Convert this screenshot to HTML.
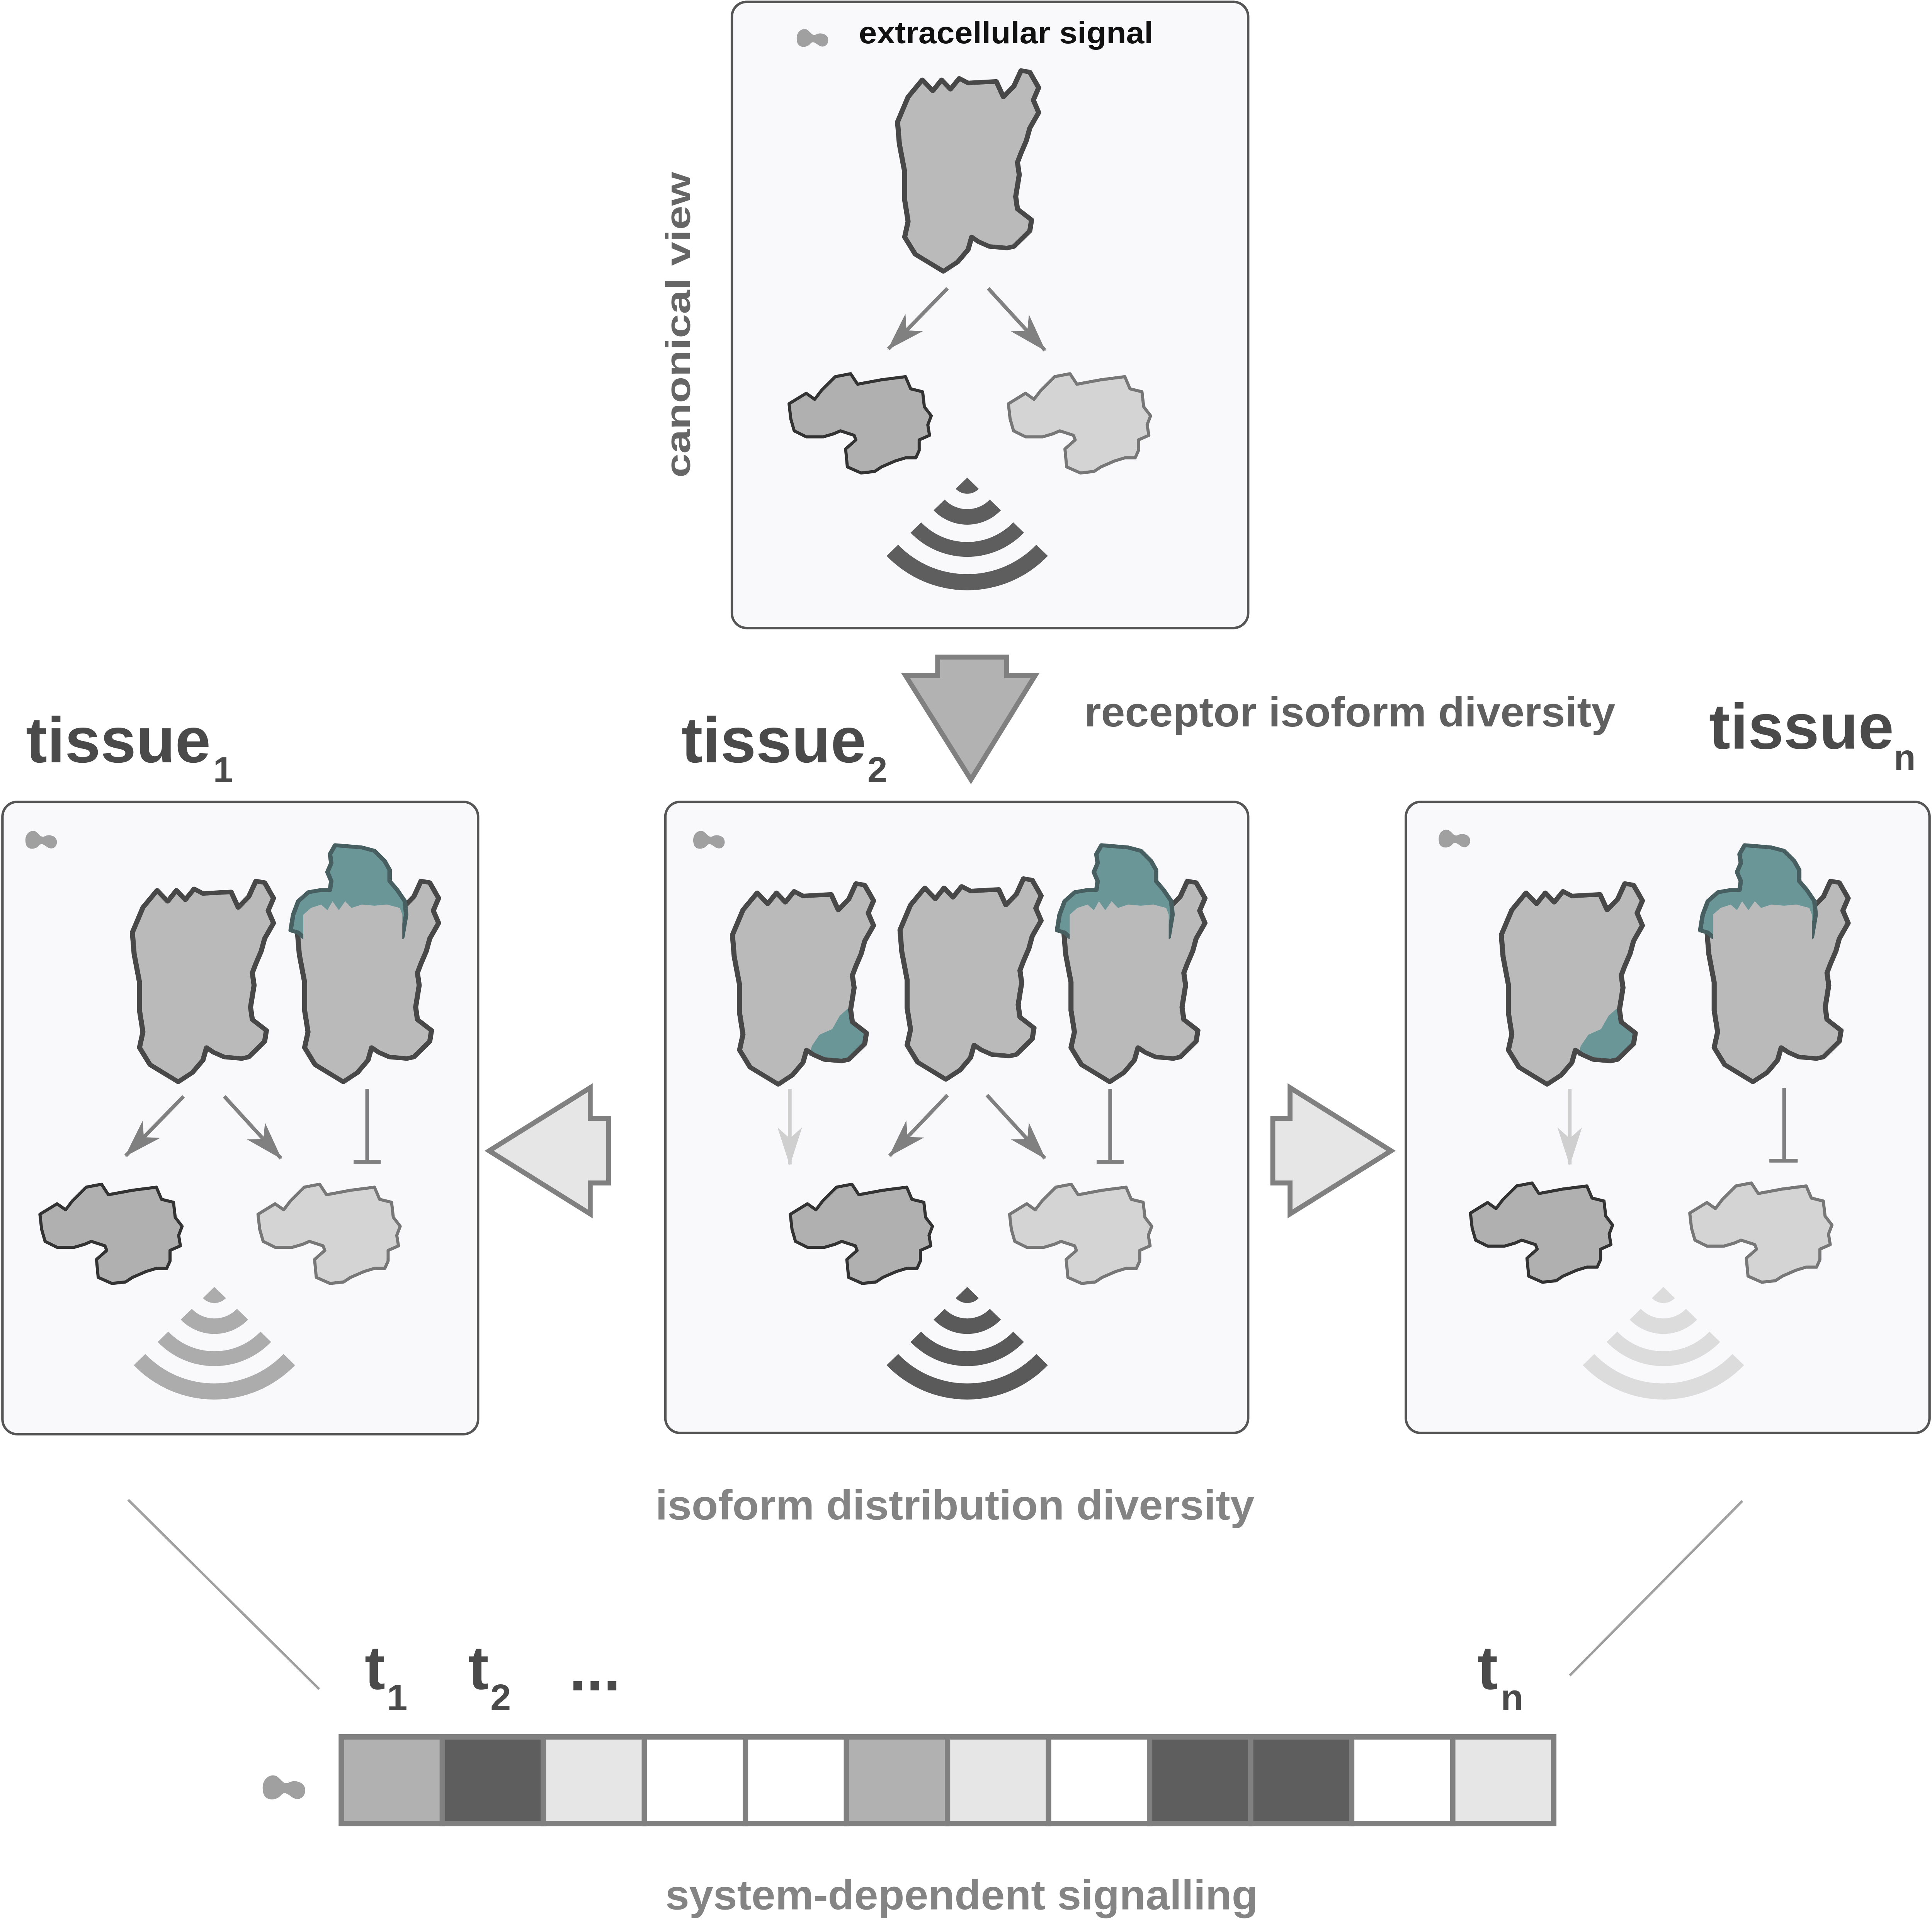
<!DOCTYPE html>
<html><head><meta charset="utf-8"><style>
html,body{margin:0;padding:0;background:#fff;overflow:hidden;width:100vw;height:100vh;}
svg{display:block;position:absolute;left:0;top:0;width:100vw;height:100vh;}
text{font-family:"Liberation Sans",Arial,sans-serif;font-weight:bold;}
</style></head><body>
<svg viewBox="0 0 1568 1561.3" preserveAspectRatio="none" xmlns="http://www.w3.org/2000/svg">
<defs>
<path id="rec" d="M9.7,23.6 L20.9,8.3 L29.2,18.1 L36.1,8.3 L43.1,16.7 L50,7 L57,11.1 L79.2,9.7 L84.8,23.6 L93.1,13.9 L98.7,0 L105.6,1.4 L112.6,15.3 L108.4,26.4 L112.6,37.5 L105.6,51.4 L102.9,62.6 L98.7,73.7 L95.9,82 L97.3,93.1 L94.5,112.6 L95.9,123.7 L107,133.4 L105.6,143.2 L93.1,157.1 L87.6,158.5 L73.7,157.1 L65.3,152.9 L59.8,148.7 L57,159.9 L48.7,171 L37.5,179.3 L15.3,164 L7,148.7 L9.7,134.8 L7,115.4 L7,90.4 L2.8,65.3 L1.4,45.9 Z"/>
<path id="eff" d="M1.4,24.3 L15.3,15.8 L22.2,20.7 L27.8,13.4 L38.9,2.4 L51.4,0 L57,8.5 L76.5,4.9 L95.9,2.4 L100.1,12.2 L109.8,14.6 L111.2,26.7 L116.8,34 L114,41.3 L115.4,49.8 L107,53.5 L107,62 L104.3,68 L95.9,68 L87.6,70.5 L76.5,75.3 L70.9,79 L59.8,80.2 L48.7,75.3 L47.3,60.8 L55.6,53.5 L54.2,49.8 L43.1,46.2 L37.5,48.6 L29.2,51 L15.3,51 L5.6,46.2 L2.8,36.5 Z"/>
<path id="sig" d="M2,14 C0,6 6,2 10,4 C13,6 14,9 17,8 C20,6 26,7 27,11 C28,16 24,19 20,17 C17,15 15,13 13,15 C10,19 3,19 2,14 Z" fill="#a0a0a0"/>
<g id="wifi">
<path d="M0,0 L-9.35,9.04 A13,13 0 0 0 9.35,9.04 Z"/>
<path d="M-27.32,26.41 A38,38 0 0 0 27.32,26.41 L18.33,17.72 A25.5,25.5 0 0 1 -18.33,17.72 Z"/>
<path d="M-46.02,44.48 A64,64 0 0 0 46.02,44.48 L37.39,36.14 A52,52 0 0 1 -37.39,36.14 Z"/>
<path d="M-65.43,63.25 A91,91 0 0 0 65.43,63.25 L56.08,54.21 A78,78 0 0 1 -56.08,54.21 Z"/>
</g>
<g id="tealTop">
<path d="M-4,44 L-2,30 L2,18 L10,10 L20,8 L27,8 L28,0 L25,-8 L28,-16 L27,-24 L31,-32 L52,-30 L62,-27 L70,-18 L74,-10 L74,0 L80,8 L86,18 L87,30 L84,50 L6,50 L2,46 Z" fill="#6a9698" stroke="#485f61" stroke-width="3.5" stroke-linejoin="round"/>
<path d="M6,52 L6,30 L12,24 L20,21 L25,26 L29,18 L34,26 L39,18 L44,24 L52,21 L62,22 L72,21 L82,24 L84,30 L84,52 Z" fill="#bababa"/>
</g>
<path id="tealBot" d="M62,154 L64,145 L70,135 L80,130 L86,118 L92,112 L96,113 L96,124 L107,133.4 L105.6,143.2 L93.1,157.1 L87.6,158.5 L73.7,157.1 L65.3,152.9 Z" fill="#6a9698"/>
<marker id="ah" viewBox="-32 -12 34 24" markerWidth="34" markerHeight="24" refX="0" refY="0" orient="auto" markerUnits="userSpaceOnUse"><path d="M1,0 L-30,-10 L-21,0 L-30,10 Z" fill="#808080"/></marker>
<marker id="ahl" viewBox="-32 -12 34 24" markerWidth="34" markerHeight="24" refX="0" refY="0" orient="auto" markerUnits="userSpaceOnUse"><path d="M1,0 L-30,-10 L-21,0 L-30,10 Z" fill="#cfcfcf"/></marker>
</defs>

<rect x="594" y="1.5" width="419" height="506" rx="12" fill="#f9f9fb" stroke="#555" stroke-width="2"/>
<use href="#sig" x="645" y="20"/>
<text x="697" y="35" font-size="25" fill="#111" textLength="239" lengthAdjust="spacingAndGlyphs">extracellular signal</text>
<text transform="translate(560,386) rotate(-90)" font-size="28" fill="#666" textLength="247" lengthAdjust="spacingAndGlyphs">canonical view</text>
<g transform="translate(727,57) scale(1.03,0.905)"><use href="#rec" fill="#bababa" stroke="#484848" stroke-width="4" stroke-linejoin="round"/></g>
<line x1="769" y1="233" x2="721" y2="282" stroke="#808080" stroke-width="3" marker-end="url(#ah)"/>
<line x1="802" y1="233" x2="848" y2="283" stroke="#808080" stroke-width="3" marker-end="url(#ah)"/>
<use href="#eff" x="639" y="302" fill="#b0b0b0" stroke="#333" stroke-width="2.5" stroke-linejoin="round"/>
<use href="#eff" x="817" y="302" fill="#d4d4d4" stroke="#777" stroke-width="2.5" stroke-linejoin="round"/>
<use href="#wifi" x="785" y="386" fill="#5e5e5e"/>

<polygon points="761,531 817,531 817,546 840,546 788,630 735,546 761,546" fill="#b2b2b2" stroke="#808080" stroke-width="4"/>
<text x="880" y="587" font-size="34" fill="#606060" textLength="431" lengthAdjust="spacingAndGlyphs">receptor isoform diversity</text>

<text x="21" y="616" font-size="52" fill="#4a4a4a" textLength="150" lengthAdjust="spacingAndGlyphs">tissue</text>
<text x="173" y="632" font-size="29" fill="#4a4a4a">1</text>
<text x="553" y="616" font-size="52" fill="#4a4a4a" textLength="150" lengthAdjust="spacingAndGlyphs">tissue</text>
<text x="704" y="632" font-size="29" fill="#4a4a4a">2</text>
<text x="1387" y="605" font-size="52" fill="#4a4a4a" textLength="150" lengthAdjust="spacingAndGlyphs">tissue</text>
<text x="1537" y="622" font-size="29" fill="#4a4a4a">n</text>

<rect x="2" y="648" width="386" height="511" rx="12" fill="#f9f9fb" stroke="#555" stroke-width="2"/>
<use href="#sig" x="19" y="668"/>
<g transform="translate(106,712) scale(1.03,0.905)"><use href="#rec" fill="#bababa" stroke="#484848" stroke-width="4" stroke-linejoin="round"/></g>
<g transform="translate(240,712) scale(1.03,0.905)"><use href="#rec" fill="#bababa" stroke="#484848" stroke-width="4" stroke-linejoin="round"/><use href="#tealTop"/></g>
<line x1="149" y1="886" x2="102" y2="934" stroke="#808080" stroke-width="3" marker-end="url(#ah)"/>
<line x1="182" y1="886" x2="228" y2="936" stroke="#808080" stroke-width="3" marker-end="url(#ah)"/>
<line x1="298" y1="880" x2="298" y2="939" stroke="#808080" stroke-width="3"/>
<line x1="287" y1="939" x2="309" y2="939" stroke="#808080" stroke-width="3"/>
<use href="#eff" x="31" y="957" fill="#b0b0b0" stroke="#333" stroke-width="2.5" stroke-linejoin="round"/>
<use href="#eff" x="208" y="957" fill="#d4d4d4" stroke="#777" stroke-width="2.5" stroke-linejoin="round"/>
<use href="#wifi" x="174" y="1040" fill="#acacac"/>

<rect x="540" y="648" width="473" height="510" rx="12" fill="#f9f9fb" stroke="#555" stroke-width="2"/>
<use href="#sig" x="561" y="668"/>
<g transform="translate(593,714) scale(1.03,0.905)"><use href="#rec" fill="#bababa"/><use href="#tealBot"/><use href="#rec" fill="none" stroke="#484848" stroke-width="4" stroke-linejoin="round"/></g>
<g transform="translate(729,710) scale(1.03,0.905)"><use href="#rec" fill="#bababa" stroke="#484848" stroke-width="4" stroke-linejoin="round"/></g>
<g transform="translate(862,712) scale(1.03,0.905)"><use href="#rec" fill="#bababa" stroke="#484848" stroke-width="4" stroke-linejoin="round"/><use href="#tealTop"/></g>
<line x1="641" y1="880" x2="641" y2="941" stroke="#cfcfcf" stroke-width="3" marker-end="url(#ahl)"/>
<line x1="769" y1="885" x2="722" y2="934" stroke="#808080" stroke-width="3" marker-end="url(#ah)"/>
<line x1="801" y1="885" x2="848" y2="936" stroke="#808080" stroke-width="3" marker-end="url(#ah)"/>
<line x1="901" y1="880" x2="901" y2="939" stroke="#808080" stroke-width="3"/>
<line x1="890" y1="939" x2="912" y2="939" stroke="#808080" stroke-width="3"/>
<use href="#eff" x="640" y="957" fill="#b0b0b0" stroke="#333" stroke-width="2.5" stroke-linejoin="round"/>
<use href="#eff" x="818" y="957" fill="#d4d4d4" stroke="#777" stroke-width="2.5" stroke-linejoin="round"/>
<use href="#wifi" x="785" y="1040" fill="#5a5a5a"/>

<rect x="1141" y="648" width="425" height="510" rx="12" fill="#f9f9fb" stroke="#555" stroke-width="2"/>
<use href="#sig" x="1166" y="667"/>
<g transform="translate(1217,714) scale(1.03,0.905)"><use href="#rec" fill="#bababa"/><use href="#tealBot"/><use href="#rec" fill="none" stroke="#484848" stroke-width="4" stroke-linejoin="round"/></g>
<g transform="translate(1384,712) scale(1.03,0.905)"><use href="#rec" fill="#bababa" stroke="#484848" stroke-width="4" stroke-linejoin="round"/><use href="#tealTop"/></g>
<line x1="1274" y1="880" x2="1274" y2="941" stroke="#cfcfcf" stroke-width="3" marker-end="url(#ahl)"/>
<line x1="1448" y1="879" x2="1448" y2="938" stroke="#808080" stroke-width="3"/>
<line x1="1436" y1="938" x2="1459" y2="938" stroke="#808080" stroke-width="3"/>
<use href="#eff" x="1192" y="956" fill="#b0b0b0" stroke="#333" stroke-width="2.5" stroke-linejoin="round"/>
<use href="#eff" x="1370" y="956" fill="#d4d4d4" stroke="#777" stroke-width="2.5" stroke-linejoin="round"/>
<use href="#wifi" x="1350" y="1040" fill="#dcdcdc"/>

<polygon points="397,930 479,879 479,904 494,904 494,956 479,956 479,981" fill="#e6e6e6" stroke="#808080" stroke-width="4"/>
<polygon points="1129,930 1047,879 1047,904 1033,904 1033,956 1047,956 1047,981" fill="#e6e6e6" stroke="#808080" stroke-width="4"/>

<text x="532" y="1228" font-size="34" fill="#848484" textLength="486" lengthAdjust="spacingAndGlyphs">isoform distribution diversity</text>

<line x1="104" y1="1212" x2="259" y2="1365" stroke="#a0a0a0" stroke-width="2"/>
<line x1="1414" y1="1213" x2="1274" y2="1354" stroke="#a0a0a0" stroke-width="2"/>

<text x="296" y="1365" font-size="50" fill="#4a4a4a">t</text>
<text x="314" y="1382" font-size="30" fill="#4a4a4a">1</text>
<text x="380" y="1365" font-size="50" fill="#4a4a4a">t</text>
<text x="398" y="1382" font-size="30" fill="#4a4a4a">2</text>
<text x="462" y="1366" font-size="50" fill="#4a4a4a">...</text>
<text x="1199" y="1365" font-size="50" fill="#4a4a4a">t</text>
<text x="1218" y="1382" font-size="30" fill="#4a4a4a">n</text>

<g transform="translate(211,1430) scale(1.35)"><use href="#sig"/></g>
<g stroke="#808080" stroke-width="4.4">
<rect x="277" y="1403.6" width="82" height="70" fill="#b1b1b1"/>
<rect x="359" y="1403.6" width="82" height="70" fill="#5e5e5e"/>
<rect x="441" y="1403.6" width="82" height="70" fill="#e6e6e6"/>
<rect x="523" y="1403.6" width="82" height="70" fill="#ffffff"/>
<rect x="605" y="1403.6" width="82" height="70" fill="#ffffff"/>
<rect x="687" y="1403.6" width="82" height="70" fill="#b1b1b1"/>
<rect x="769" y="1403.6" width="82" height="70" fill="#e6e6e6"/>
<rect x="851" y="1403.6" width="82" height="70" fill="#ffffff"/>
<rect x="933" y="1403.6" width="82" height="70" fill="#5e5e5e"/>
<rect x="1015" y="1403.6" width="82" height="70" fill="#5e5e5e"/>
<rect x="1097" y="1403.6" width="82" height="70" fill="#ffffff"/>
<rect x="1179" y="1403.6" width="82" height="70" fill="#e6e6e6"/>
</g>
<text x="540" y="1543" font-size="34" fill="#848484" textLength="481" lengthAdjust="spacingAndGlyphs">system-dependent signalling</text>
</svg>
</body></html>
